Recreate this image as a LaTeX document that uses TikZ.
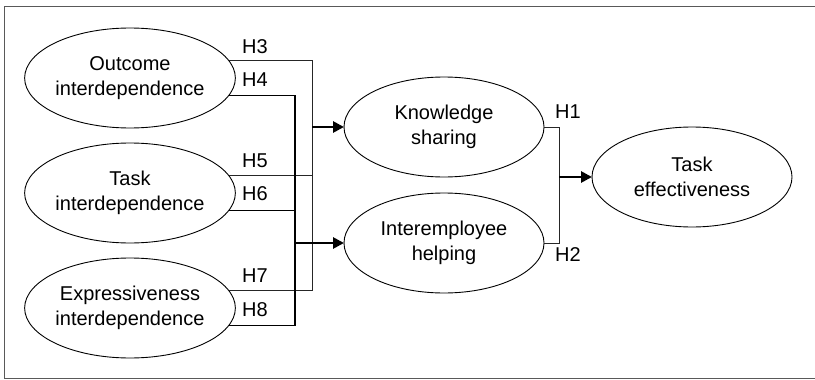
\documentclass[tikz,border=0pt]{standalone}
\usepackage{fontspec}
\setmainfont{Liberation Sans}
\usetikzlibrary{shapes.geometric,arrows.meta}

\tikzset{
  construct/.style={ellipse, draw, line width=0.9pt, inner sep=0pt, outer sep=0pt,
    minimum width=200pt, minimum height=100pt, align=center,
    font=\fontsize{20}{25}\selectfont},
  hlabel/.style={font=\fontsize{20}{23}\selectfont, inner sep=0pt},
  thinlink/.style={line width=1pt, color=black!85},
  boldlink/.style={line width=1.6pt},
  effect/.style={line width=2.8pt, -{Triangle[length=11pt,width=11pt]}},
}

\begin{document}
\begin{tikzpicture}[x=1pt,y=-1pt]
  \useasboundingbox (0,0) rectangle (815,380);

  % frame (open on the right)
  \draw[line width=1.2pt, color=black!65] (816,6.5) -- (4.5,6.5) -- (4.5,378.8) -- (816,378.8);

  % antecedents
  \node[construct] (o) at (130,78)  {Outcome\\interdependence};
  \node[construct] (t) at (130,193) {Task\\interdependence};
  \node[construct] (e) at (130,308) {Expressiveness\\interdependence};

  % mediators and outcome
  \node[construct] (k)  at (444,127) {Knowledge\\sharing};
  \node[construct] (h)  at (444,243) {Interemployee\\helping};
  \node[construct] (te) at (692,177) {Task\\effectiveness};

  % junction points of the buses
  \coordinate (ka) at (312,127);
  \coordinate (ia) at (295,243);
  \coordinate (tj) at (559,177);

  % paths to knowledge sharing
  \draw[thinlink] (o.10) -| (ka);
  \draw[thinlink] (e.10) -| (ka);
  \draw[thinlink] (t.10) -- (t.10 -| ka);

  % paths to interemployee helping
  \draw[boldlink] (o.-10) -| (ia);
  \draw[boldlink] (e.-10) -| (ia);
  \draw[boldlink] (t.-10) -- (t.-10 -| ia);

  \draw[effect] (ka) -- (k.west);
  \draw[effect] (ia) -- (h.west);

  % paths to task effectiveness
  \draw[thinlink] (k.east) -| (tj);
  \draw[thinlink] (h.east) -| (tj);
  \draw[effect] (tj) -- (te.west);

  % hypothesis labels
  \node[hlabel] (h3) at (255,47)  {H3};
  \node[hlabel] (h4) at (255,80)  {H4};
  \node[hlabel] (h5) at (255,161) {H5};
  \node[hlabel] (h6) at (255,194) {H6};
  \node[hlabel] (h7) at (255,276) {H7};
  \node[hlabel] (h8) at (255,310) {H8};
  \node[hlabel] (h1) at (568,112) {H1};
  \node[hlabel] (h2) at (568,255) {H2};
\end{tikzpicture}
\end{document}
